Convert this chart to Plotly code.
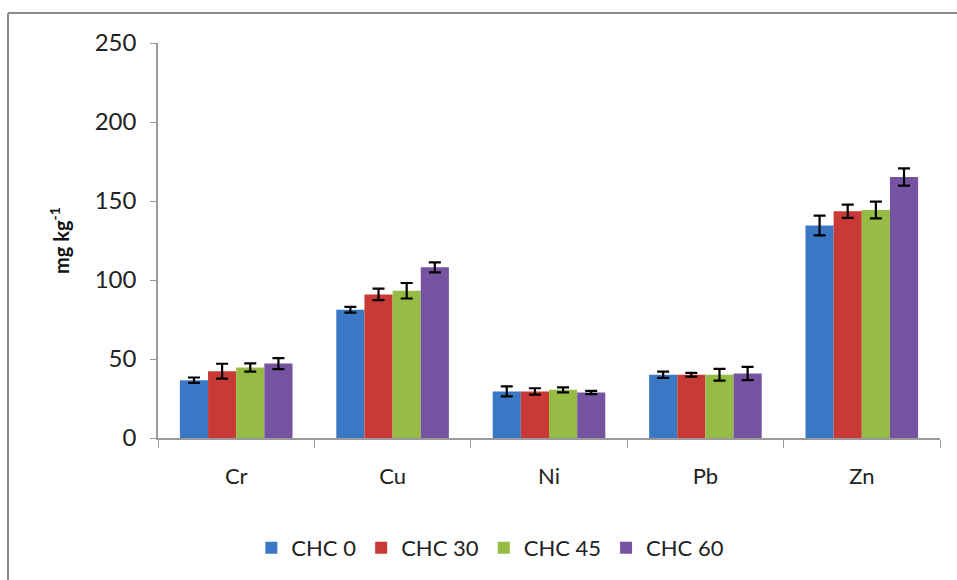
import plotly.graph_objects as go

categories = ["Cr", "Cu", "Ni", "Pb", "Zn"]
series_names = ["CHC 0", "CHC 30", "CHC 45", "CHC 60"]
chc0 = [36.6, 81.2, 29.5, 40.0, 134.5]
chc30 = [42.3, 90.9, 29.5, 40.0, 143.5]
chc45 = [44.6, 93.2, 30.5, 40.0, 144.3]
chc60 = [47.1, 108.0, 28.8, 40.8, 165.2]
err0 = [1.7, 1.8, 3.2, 2.0, 6.3]
err30 = [4.7, 3.6, 2.0, 1.2, 4.2]
err45 = [2.6, 4.9, 1.6, 3.7, 5.3]
err60 = [3.5, 3.2, 1.0, 4.2, 5.5]
colors = ["#3a78c5", "#c93a36", "#97bc45", "#7653a1"]
y_ticks = [0, 50, 100, 150, 200, 250]

values = [chc0, chc30, chc45, chc60]
errors = [err0, err30, err45, err60]

fig = go.Figure()
for name, v, e, c in zip(series_names, values, errors, colors):
    fig.add_trace(go.Bar(
        x=categories, y=v, name=name,
        marker=dict(color=c, line=dict(width=0)),
        error_y=dict(type="data", array=e, visible=True, color="black",
                     thickness=2.2, width=6),
    ))

font_family = "Lato, 'Open Sans', sans-serif"
border = dict(color="#8a8a8a", width=2)
fig.update_layout(
    width=957, height=580,
    margin=dict(l=158, r=17, t=43, b=141),
    paper_bgcolor="white", plot_bgcolor="white",
    barmode="group", bargap=0.28, bargroupgap=0,
    font=dict(family=font_family, color="#222222", size=21),
    showlegend=True,
    legend=dict(orientation="h", x=0.425, xanchor="center", y=-0.275, yanchor="middle",
                font=dict(size=22, family=font_family), itemwidth=30,
                tracegroupgap=0, itemsizing="constant"),
    xaxis=dict(
        type="category", range=[-0.5, 4.5],
        showline=True, linecolor="#9a9a9a", linewidth=1.5,
        ticks="outside", tickson="boundaries", ticklen=8, tickcolor="#9a9a9a",
        tickfont=dict(size=22, family=font_family, color="#222222"),
        ticklabelstandoff=18,
        showgrid=False, zeroline=False,
    ),
    yaxis=dict(
        range=[0, 250], tickvals=y_ticks,
        showline=True, linecolor="#9a9a9a", linewidth=1.5,
        ticks="outside", ticklen=6, tickcolor="#9a9a9a",
        tickfont=dict(size=24, family=font_family, color="#222222"),
        ticklabelstandoff=9,
        showgrid=False, zeroline=False,
        title=dict(text="<b>mg kg<sup>-1</sup></b>", standoff=20,
                   font=dict(size=20, family=font_family, color="#111111")),
    ),
    shapes=[
        dict(type="line", xref="paper", yref="paper",
             x0=-0.1918, x1=1.3, y0=1.0758, y1=1.0758, line=border, layer="below"),
        dict(type="line", xref="paper", yref="paper",
             x0=-0.1918, x1=-0.1918, y0=-0.6, y1=1.0758, line=border, layer="below"),
    ],
)

fig.write_html("out.html",
               config={"displayModeBar": False},
               post_script="document.body.style.margin='0';document.body.style.overflow='hidden';")
